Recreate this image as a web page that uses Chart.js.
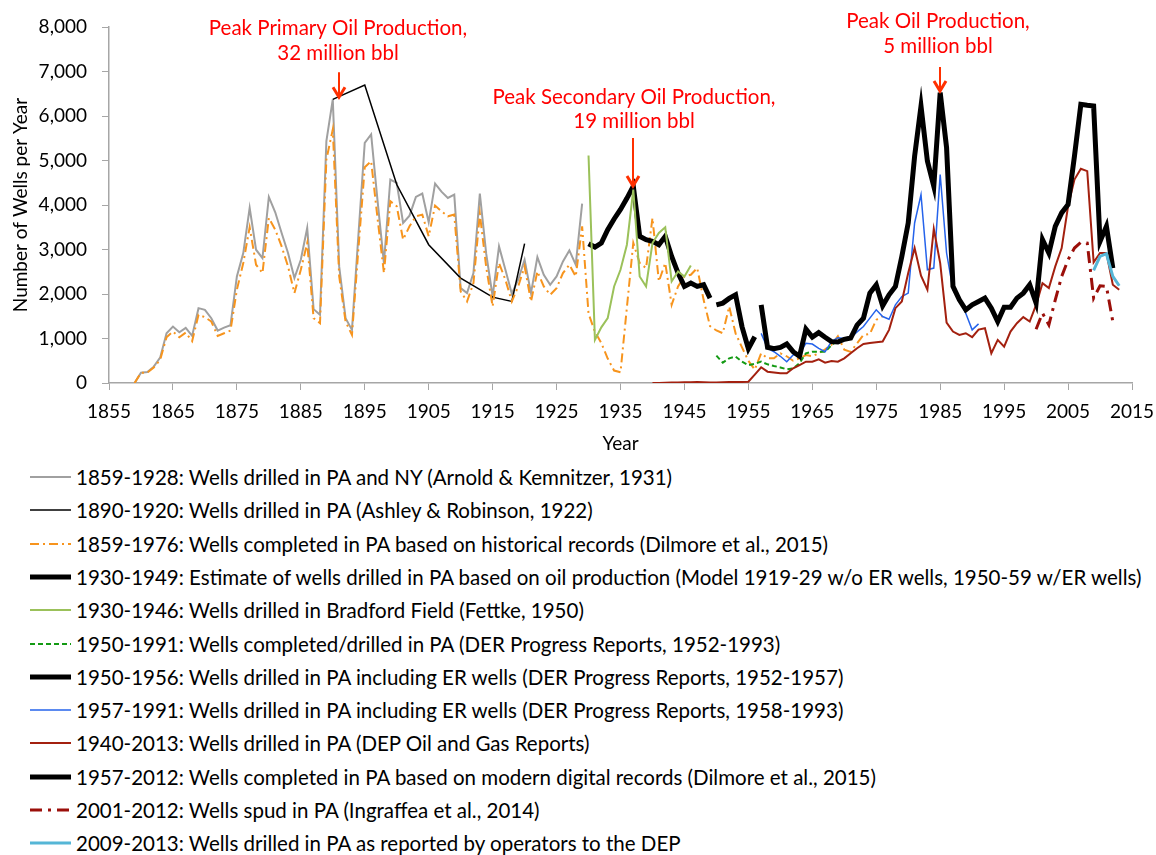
<!DOCTYPE html>
<html>
<head>
<meta charset="utf-8">
<script src="https://cdn.jsdelivr.net/npm/chart.js@4.4.0/dist/chart.umd.min.js"></script>
<style>
  body { margin: 0; background: #fff; font-family: Lato, sans-serif; }
  #wrap { position: relative; width: 1156px; height: 855px; }
  #wells-chart { position: absolute; left: 0; top: 0; }
  #legend { position: absolute; left: 0; top: 460px; }
  .lg-row { position: absolute; left: 0; height: 34px; white-space: nowrap; font-size: 20.5px; color: #000; }
  .lg-row svg { position: absolute; left: 29px; top: 0; }
  .lg-row span { position: absolute; left: 76px; top: 50%; transform: translateY(-50%); line-height: 1; }
</style>
</head>
<body>
<div id="wrap">
  <canvas id="wells-chart" width="1156" height="455"></canvas>
  <div id="legend"></div>
</div>
<script>
// year ticks
const yearMin = 1855;
const yearMax = 2015;
const wellsMax = 8000;

// 1859-1929 Arnold & Kemnitzer (gray)
const arnoldStart = 1859;
const arnoldWells = [0, 232, 248, 367, 570, 1119, 1268, 1141, 1239, 1059,
  1682, 1644, 1456, 1178, 1246, 1300, 2394, 2921, 3934, 2995,
  2808, 4182, 3836, 3371, 2921, 2358, 2770, 3484, 1660, 1532,
  5435, 6374, 2620, 1457, 1194, 3300, 5398, 5586, 4100, 2696,
  4572, 4497, 3596, 3761, 4182, 4257, 3611, 4482, 4300, 4159,
  4234, 2132, 2020, 2470, 4257, 2900, 1944, 3070, 2545, 2005,
  2320, 2770, 2020, 2830, 2432, 2207, 2394, 2733, 2980, 2658, 4032];

// 1890-1920 Ashley & Robinson (thin black)
const ashleyYears = [1890, 1895, 1900, 1905, 1910, 1915, 1918, 1920];
const ashleyWells = [6374, 6697, 4459, 3108, 2357, 1930, 1832, 3131];

// 1859-1976 historical records (orange dash-dot)
const historicStart = 1859;
const historicWells = [0, 230, 235, 350, 520, 1029, 1156, 1029, 1133, 939,
  1532, 1480, 1381, 1059, 1119, 1178, 2095, 2696, 3500, 2658,
  2470, 3709, 3446, 3070, 2620, 2020, 2545, 3146, 1457, 1344,
  5023, 5698, 2400, 1381, 1081, 3000, 4850, 4985, 3700, 2470,
  4084, 3971, 3221, 3521, 3746, 3784, 3296, 3986, 3859, 3746,
  3784, 2057, 1832, 2245, 3800, 2600, 1719, 2696, 2320, 1832,
  2170, 2620, 1832, 2507, 2170, 1982, 2132, 2470, 2658, 2394,
  3521, 1560, 1150, 900, 550, 280, 240, 1700, 3146, 2696,
  2583, 3709, 2282, 2696, 1757, 2170, 2394, 2432, 2583, 1869,
  1280, 1180, 1119, 1720, 1116, 800, 500, 300, 667, 555,
  555, 667, 600, 501, 555, 629, 600, 667, 757, 860,
  1050, 750, 700, 893, 1081, 1104, 1419, 1500];

// 1930-1949 estimate from oil production (thick black)
const estimateStart = 1930;
const estimateWells = [3131, 3055, 3146, 3446, 3686, 3900, 4150, 4422, 3296, 3221,
  3183, 3108, 3296, 2845, 2470, 2170, 2245, 2170, 2207, 1907];

// 1930-1946 Bradford Field (light green)
const bradfordStart = 1930;
const bradfordWells = [5113, 968, 1250, 1457, 2170, 2545, 3108, 4347, 2394, 2170,
  3146, 3371, 3498, 2282, 2507, 2394, 2642];

// 1950-1970 DER completed/drilled (green dashed)
const derStart = 1950;
const derWells = [614, 457, 555, 593, 480, 400, 430, 480, 420, 383,
  350, 308, 330, 443, 668, 703, 700, 703, 850, 960, 1000];

// 1950-1956 DER incl. ER wells (thick black)
const derErStart = 1950;
const derErWells = [1757, 1795, 1900, 1982, 1268, 770, 1040];

// 1957-1991 DER incl. ER wells (blue)
const derEr2Start = 1957;
const derEr2Wells = [1116, 780, 703, 600, 478, 629, 667, 892, 876, 780,
  703, 929, 1018, 1000, 1021, 1150, 1268, 1457, 1644, 1494,
  1434, 1757, 1944, 2020, 3596, 4234, 2545, 2583, 4685, 2921,
  2095, 1869, 1569, 1194, 1329];

// 1940-2013 DEP reports (dark red)
const depStart = 1940;
const depWells = [0, 0, 5, 10, 10, 15, 15, 20, 15, 10,
  10, 15, 20, 20, 25, 30, 190, 353, 254, 235,
  218, 218, 330, 404, 479, 479, 532, 456, 494, 479,
  555, 667, 780, 878, 900, 915, 931, 1194, 1682, 1832,
  2470, 3033, 2410, 2095, 3461, 2696, 1358, 1156, 1081, 1119,
  1029, 1200, 1232, 668, 968, 818, 1156, 1344, 1480, 1381,
  1757, 2245, 2132, 2620, 3033, 3971, 4572, 4813, 4760, 2710,
  2921, 2921, 2207, 2095];

// 1957-2012 modern digital records (thick black)
const modernStart = 1957;
const modernWells = [1753, 802, 770, 800, 876, 703, 600, 1210, 1030, 1131,
  1027, 929, 920, 982, 1010, 1300, 1457, 2020, 2207, 1734,
  1982, 2170, 2845, 3596, 5097, 6223, 4985, 4422, 6525, 5286,
  2170, 1869, 1644, 1757, 1830, 1907, 1682, 1381, 1704, 1704,
  1907, 2020, 2207, 1795, 3221, 2921, 3521, 3822, 4009, 5097,
  6261, 6240, 6223, 3183, 3521, 2583];

// Ingraffea et al. (dark red dash-dot)
const spudStart = 2000;
const spudWells = [1209, 1569, 1306, 1869, 2394, 2770, 3033, 3160, 3146, 1907,
  2185, 2170, 1381];

// 2009-2013 operators to DEP (light blue)
const operatorStart = 2009;
const operatorWells = [2530, 2845, 2905, 2394, 2185];

const legendLabels = [
  '1859-1928: Wells drilled in PA and NY (Arnold & Kemnitzer, 1931)',
  '1890-1920: Wells drilled in PA (Ashley & Robinson, 1922)',
  '1859-1976: Wells completed in PA based on historical records (Dilmore et al., 2015)',
  '1930-1949: Estimate of wells drilled in PA based on oil production (Model 1919-29 w/o ER wells, 1950-59 w/ER wells)',
  '1930-1946: Wells drilled in Bradford Field (Fettke, 1950)',
  '1950-1991: Wells completed/drilled in PA (DER Progress Reports, 1952-1993)',
  '1950-1956: Wells drilled in PA including ER wells (DER Progress Reports, 1952-1957)',
  '1957-1991: Wells drilled in PA including ER wells (DER Progress Reports, 1958-1993)',
  '1940-2013: Wells drilled in PA (DEP Oil and Gas Reports)',
  '1957-2012: Wells completed in PA based on modern digital records (Dilmore et al., 2015)',
  '2001-2012: Wells spud in PA (Ingraffea et al., 2014)',
  '2009-2013: Wells drilled in PA as reported by operators to the DEP'
];

const peakNotes = [
  { year: 1891, value: 6400, lines: ['Peak Primary Oil Production,', '32 million bbl'], arrow: 26, textDy: [-70, -45], textDx: -1 },
  { year: 1937, value: 4404, lines: ['Peak Secondary Oil Production,', '19 million bbl'], arrow: 49, textDy: [-90, -66], textDx: 1 },
  { year: 1985, value: 6540, lines: ['Peak Oil Production,', '5 million bbl'], arrow: 25, textDy: [-71, -46], textDx: -2 }
];

function series(start, values) {
  return values.map((v, i) => ({ x: start + i, y: v }));
}

const styles = [
  { color: '#a0a0a0', width: 2, dash: [] },
  { color: '#000000', width: 1.5, dash: [] },
  { color: '#f7941d', width: 2, dash: [9, 4, 2, 4] },
  { color: '#000000', width: 5, dash: [] },
  { color: '#9bc15a', width: 2, dash: [] },
  { color: '#139a13', width: 2, dash: [5, 3] },
  { color: '#000000', width: 5, dash: [] },
  { color: '#2563eb', width: 1.5, dash: [] },
  { color: '#a3200f', width: 2, dash: [] },
  { color: '#000000', width: 5, dash: [] },
  { color: '#9b0f0a', width: 3, dash: [12, 6, 3, 6] },
  { color: '#55b6d6', width: 3, dash: [] }
];

const seriesData = [
  series(arnoldStart, arnoldWells),
  ashleyYears.map((y, i) => ({ x: y, y: ashleyWells[i] })),
  series(historicStart, historicWells),
  series(estimateStart, estimateWells),
  series(bradfordStart, bradfordWells),
  series(derStart, derWells),
  series(derErStart, derErWells),
  series(derEr2Start, derEr2Wells),
  series(depStart, depWells),
  series(modernStart, modernWells),
  series(spudStart, spudWells),
  series(operatorStart, operatorWells)
];

const datasets = seriesData.map((data, i) => ({
  label: legendLabels[i],
  data,
  borderColor: styles[i].color,
  borderWidth: styles[i].width,
  borderDash: styles[i].dash,
  pointRadius: 0,
  tension: 0,
  fill: false,
  order: seriesData.length - i
}));

const peakPlugin = {
  id: 'peaks',
  afterDatasetsDraw(chart) {
    const { ctx, scales } = chart;
    ctx.save();
    peakNotes.forEach(n => {
      const x = Math.round(scales.x.getPixelForValue(n.year));
      const tip = scales.y.getPixelForValue(n.value);
      ctx.strokeStyle = '#ff3000';
      ctx.lineWidth = 2;
      ctx.beginPath();
      ctx.moveTo(x, tip - n.arrow);
      ctx.lineTo(x, tip);
      ctx.stroke();
      ctx.lineWidth = 3;
      ctx.beginPath();
      ctx.moveTo(x - 6, tip - 11);
      ctx.lineTo(x, tip - 1);
      ctx.lineTo(x + 6, tip - 11);
      ctx.stroke();
      ctx.fillStyle = '#ff0000';
      ctx.font = '20.5px Lato';
      ctx.textAlign = 'center';
      ctx.textBaseline = 'middle';
      n.lines.forEach((t, k) => ctx.fillText(t, x + n.textDx, tip + n.textDy[k]));
    });
    ctx.restore();
  }
};

Chart.defaults.font.family = 'Lato';
Chart.defaults.font.size = 19;
Chart.defaults.color = '#000';

new Chart(document.getElementById('wells-chart'), {
  type: 'line',
  data: { datasets },
  options: {
    responsive: false,
    animation: false,
    layout: { padding: { top: 27, right: 24, left: 0, bottom: 0 } },
    plugins: { legend: { display: false }, tooltip: { enabled: false } },
    scales: {
      x: {
        type: 'linear',
        min: yearMin,
        max: yearMax,
        ticks: { stepSize: 10, padding: 10, maxRotation: 0, callback: v => String(v) },
        grid: { drawOnChartArea: false, drawTicks: true, tickLength: 7, color: '#a6a6a6' },
        border: { color: '#a6a6a6', width: 1.5 },
        title: { display: true, text: 'Year', padding: { top: 0, bottom: 0 } },
        afterFit: s => { s.height = 72; s.paddingLeft = 0; s.paddingRight = 0; }
      },
      y: {
        min: 0,
        max: wellsMax,
        ticks: { stepSize: 1000, padding: 15 },
        grid: { drawOnChartArea: false, drawTicks: true, tickLength: 7, color: '#a6a6a6' },
        border: { color: '#a6a6a6', width: 1.5 },
        title: { display: true, text: 'Number of Wells per Year', padding: { top: 9, bottom: 0 } },
        afterFit: s => { s.width = 109; }
      }
    }
  },
  plugins: [peakPlugin]
});

// legend rows
const legendEl = document.getElementById('legend');
legendEl.innerHTML = legendLabels.map((label, i) => {
  const s = styles[i];
  const dash = s.dash.length ? `stroke-dasharray="${s.dash.join(' ')}"` : '';
  const top = i * 33.3;
  return `<div class="lg-row" style="top:${top}px">
    <svg width="44" height="34"><line x1="1" y1="17" x2="42" y2="17" stroke="${s.color}" stroke-width="${s.width}" ${dash}/></svg>
    <span>${label.replace(/&/g, '&amp;')}</span>
  </div>`;
}).join('');
</script>
</body>
</html>
